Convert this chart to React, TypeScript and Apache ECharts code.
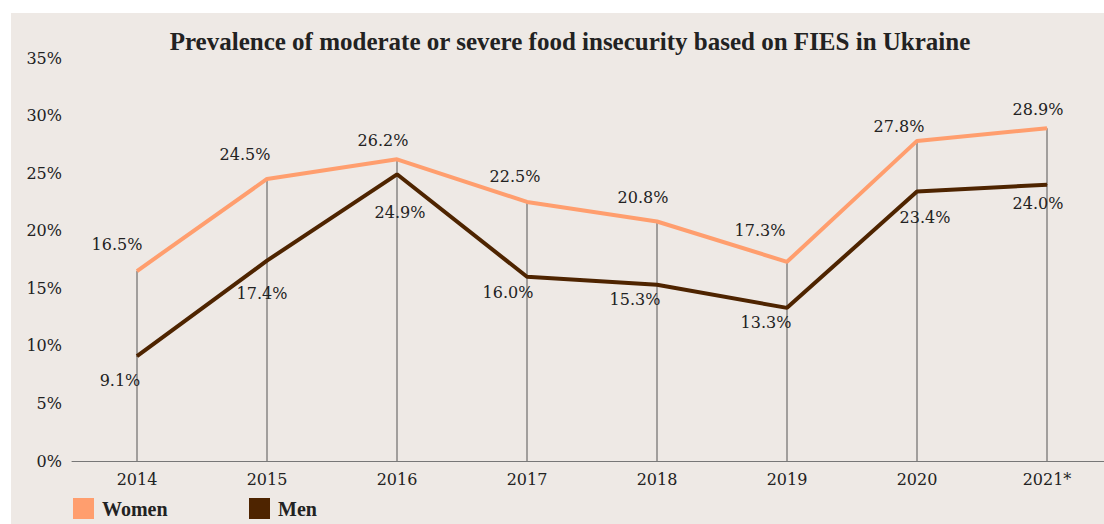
import React, { useEffect, useRef } from "react";
import * as echarts from "echarts";

const years = ["2014", "2015", "2016", "2017", "2018", "2019", "2020", "2021*"];
const women = [16.5, 24.5, 26.2, 22.5, 20.8, 17.3, 27.8, 28.9];
const men = [9.1, 17.4, 24.9, 16.0, 15.3, 13.3, 23.4, 24.0];
const titleText = "Prevalence of moderate or severe food insecurity based on FIES in Ukraine";

// label offsets (px) relative to each point, as placed in the original
const womenLabelOffsets = [[-20, -27], [-22, -24], [-14, -19], [-12, -25], [-14, -24], [-27, -31], [-18, -14], [-9, -19]];
const menLabelOffsets = [[-17, 24], [-5, 33], [3, 38], [-19, 16], [-22, 15], [-21, 15], [8, 26], [-9, 19]];

const WOMEN_COLOR = "#FF9E6E";
const MEN_COLOR = "#4E2400";
const SERIF = "'DejaVu Serif', serif";
const TITLE_FONT = "'Liberation Serif', serif";

export default function App() {
  const ref = useRef<HTMLDivElement>(null);
  useEffect(() => {
    if (!ref.current) return;
    const chart = echarts.init(ref.current, null, { renderer: "svg" });
    const labelStyle = {
      show: true,
      position: "inside",
      fontFamily: SERIF,
      fontSize: 16,
      color: "#222",
      formatter: (p: any) => p.value.toFixed(1) + "%",
    };
    const legendText = { fontFamily: TITLE_FONT, fontWeight: "bold", fontSize: 20, color: "#222", padding: [0, 0, 0, 3] };
    chart.setOption({
      animation: false,
      backgroundColor: "#EEE9E5",
      title: {
        text: titleText,
        left: 554,
        top: 11,
        textAlign: "center",
        textStyle: { fontFamily: TITLE_FONT, fontWeight: "bold", fontSize: 25, color: "#222" },
      },
      legend: [
        {
          data: ["Women"],
          left: 57,
          top: 480,
          icon: "rect",
          itemWidth: 21,
          itemHeight: 21,
          textStyle: legendText,
        },
        {
          data: ["Men"],
          left: 233,
          top: 480,
          icon: "rect",
          itemWidth: 21,
          itemHeight: 21,
          textStyle: legendText,
        },
      ],
      grid: { left: 61, top: 45, width: 1040, height: 403 },
      xAxis: {
        type: "category",
        data: years,
        boundaryGap: true,
        axisLine: { lineStyle: { color: "#777", width: 1 } },
        axisTick: { show: false },
        axisLabel: { fontFamily: SERIF, fontSize: 16, color: "#222", margin: 10 },
      },
      yAxis: {
        type: "value",
        min: 0,
        max: 35,
        interval: 5,
        splitLine: { show: false },
        axisLine: { show: false },
        axisTick: { show: false },
        axisLabel: { fontFamily: SERIF, fontSize: 16, color: "#222", margin: 10, formatter: "{value}%" },
      },
      series: [
        {
          name: "drop",
          type: "bar",
          data: women,
          barWidth: 1,
          silent: true,
          itemStyle: { color: "#555" },
          z: 1,
        },
        {
          name: "Women",
          type: "line",
          data: women.map((v, i) => ({ value: v, label: { offset: womenLabelOffsets[i] } })),
          symbol: "circle",
          symbolSize: 1,
          lineStyle: { color: WOMEN_COLOR, width: 4 },
          itemStyle: { color: WOMEN_COLOR },
          label: labelStyle,
          z: 3,
        },
        {
          name: "Men",
          type: "line",
          data: men.map((v, i) => ({ value: v, label: { offset: menLabelOffsets[i] } })),
          symbol: "circle",
          symbolSize: 1,
          lineStyle: { color: MEN_COLOR, width: 4 },
          itemStyle: { color: MEN_COLOR },
          label: labelStyle,
          z: 3,
        },
      ],
    });
    return () => chart.dispose();
  }, []);
  return (
    <div style={{ position: "absolute", left: 11, top: 13, width: 1093, height: 511, overflow: "hidden", background: "#EEE9E5" }}>
      <div ref={ref} style={{ width: 1101, height: 511 }} />
    </div>
  );
}
